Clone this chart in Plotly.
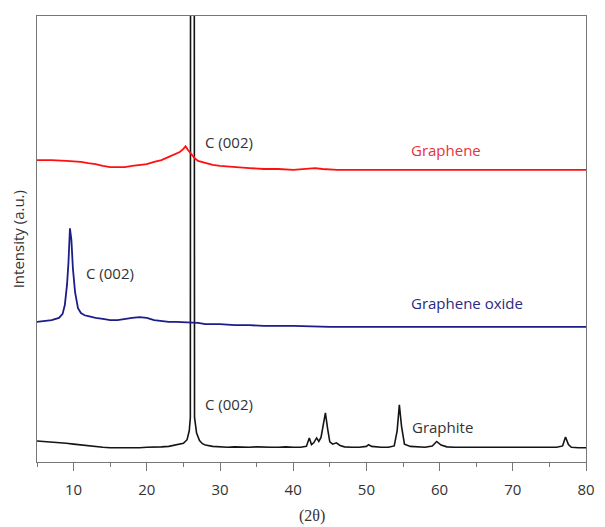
import plotly.graph_objects as go

# ---- data (2theta, intensity in arbitrary units, stacked offsets as read) ----
graphite_x = [5, 6, 7, 8, 9, 10, 11, 12, 13, 14, 15, 16, 17, 18, 19, 20, 21, 22, 23, 24, 25,
              25.5, 25.8, 25.95, 25.98, 26.48, 26.52, 26.8, 27.2, 27.6, 28, 29, 30, 31, 32, 33,
              34, 35, 36, 37, 38, 39, 40, 41, 41.8, 42.2, 42.5, 42.8, 43.2, 43.5, 43.8, 44.1,
              44.4, 44.7, 45.0, 45.4, 45.9, 46.4, 47, 48, 49, 50, 50.3, 50.7, 51.5, 52, 53, 53.8,
              54.2, 54.5, 54.8, 55.2, 56, 57, 58, 59, 59.6, 60.2, 61, 62, 63, 64, 65, 66, 67, 68,
              69, 70, 71, 72, 73, 74, 75, 76, 76.8, 77.2, 77.6, 78, 79, 80]
graphite_y = [4.7, 4.6, 4.5, 4.4, 4.2, 4.0, 3.8, 3.6, 3.4, 3.3, 3.2, 3.2, 3.1, 3.2, 3.2, 3.3, 3.3, 3.4, 3.5, 3.8, 4.2,
              5.0, 7.0, 10.0, 130.0, 130.0, 10.0, 6.5, 4.8, 4.1, 3.8, 3.5, 3.4, 3.3, 3.4, 3.3,
              3.3, 3.4, 3.3, 3.3, 3.3, 3.4, 3.3, 3.3, 3.5, 5.4, 3.9, 4.3, 5.4, 4.6, 5.5, 8.0,
              11.0, 7.5, 4.5, 4.0, 4.3, 3.7, 3.4, 3.3, 3.3, 3.5, 3.9, 3.5, 3.3, 3.3, 3.3, 3.6,
              7.0, 12.8, 8.0, 4.0, 3.5, 3.4, 3.3, 3.6, 4.6, 3.8, 3.4, 3.3, 3.3, 3.3, 3.2, 3.3, 3.3, 3.2,
              3.3, 3.3, 3.2, 3.3, 3.3, 3.2, 3.3, 3.3, 3.6, 5.6, 3.9, 3.3, 3.2, 3.2]

go_x = [5, 6, 7, 8, 8.5, 8.8, 9.1, 9.3, 9.5, 9.7, 9.9, 10.2, 10.6, 11, 11.5, 12, 13, 14, 15, 16,
        17, 18, 19, 20, 21, 22, 23, 24, 25, 26, 27, 28, 30, 32, 34, 36, 38, 40, 45, 50, 55, 60,
        65, 70, 75, 80]
go_y = [31.4, 31.6, 31.8, 32.3, 33.2, 35.2, 39.7, 44.8, 52.4, 49.8, 43.5, 38.1, 34.5, 33.4, 32.9,
        32.7, 32.3, 32.1, 31.8, 31.8, 32.1, 32.3, 32.5, 32.3, 31.8, 31.6, 31.4, 31.4, 31.3, 31.2,
        31.2, 30.9, 30.9, 30.7, 30.7, 30.5, 30.5, 30.5, 30.3, 30.3, 30.3, 30.3, 30.3, 30.3, 30.3, 30.3]

graphene_x = [5, 7, 9, 11, 12, 13, 14, 15, 16, 17, 18, 19, 20, 21, 22, 23, 24, 24.5, 25, 25.3,
              25.6, 26, 26.5, 27, 27.5, 28, 29, 30, 32, 34, 36, 38, 40, 42, 43, 44, 46, 50, 55,
              60, 65, 70, 75, 80]
graphene_y = [67.7, 67.7, 67.5, 67.3, 67.0, 66.8, 66.4, 66.1, 66.1, 66.1, 66.4, 66.6, 66.8, 67.3,
              67.7, 68.4, 69.1, 69.5, 70.2, 70.8, 70.0, 69.1, 68.2, 67.5, 67.3, 67.0, 66.6, 66.4,
              66.1, 65.9, 65.7, 65.7, 65.5, 65.7, 65.9, 65.7, 65.5, 65.5, 65.5, 65.5, 65.5, 65.5,
              65.5, 65.5]

x_ticks = [10, 20, 30, 40, 50, 60, 70, 80]

TXT = "Open Sans"

fig = go.Figure()
fig.add_trace(go.Scatter(x=graphite_x, y=graphite_y, mode="lines",
                         line=dict(color="#141414", width=1.6), showlegend=False))
fig.add_trace(go.Scatter(x=go_x, y=go_y, mode="lines",
                         line=dict(color="#1c1c8a", width=1.8), showlegend=False))
fig.add_trace(go.Scatter(x=graphene_x, y=graphene_y, mode="lines",
                         line=dict(color="#ff1010", width=1.8), showlegend=False))

labels = [
    ("C (002)", 27.7, 13.0, "#333333"),
    ("C (002)", 27.7, 71.7, "#333333"),
    ("C (002)", 11.4, 42.4, "#333333"),
    ("Graphene", 55.8, 70.0, "#e8323c"),
    ("Graphene oxide", 55.8, 35.7, "#2a2a80"),
    ("Graphite", 55.9, 7.8, "#333333"),
]
for t, x, y, c in labels:
    fig.add_annotation(x=x, y=y, text=t, showarrow=False, xanchor="left", yanchor="middle",
                       font=dict(family=TXT, size=15, color=c))

fig.add_annotation(x=0.5, y=-0.121, xref="paper", yref="paper", text="(2θ)", showarrow=False,
                   xanchor="center", yanchor="middle",
                   font=dict(family="Liberation Serif", size=16, color="#333333"))
fig.add_annotation(x=-0.034, y=0.5, xref="paper", yref="paper", text="Intensity (a.u.)",
                   showarrow=False, textangle=-90, xanchor="center", yanchor="middle",
                   font=dict(family=TXT, size=15, color="#333333"))

fig.update_layout(
    width=605, height=527,
    margin=dict(l=37, r=10, t=16, b=65),
    paper_bgcolor="white", plot_bgcolor="white",
    xaxis=dict(range=[5, 80], tickvals=x_ticks, ticks="outside", ticklen=8, tickwidth=1,
               tickcolor="#777777", showline=True, linecolor="#777777", linewidth=1.2,
               mirror=True, showgrid=False, zeroline=False,
               tickfont=dict(family=TXT, size=15, color="#333333"), ticklabelstandoff=6,
               minor=dict(dtick=5, tick0=0, ticks="outside", ticklen=4, tickcolor="#777777",
                          showgrid=False)),
    yaxis=dict(range=[0, 100], showticklabels=False, ticks="", showline=True,
               linecolor="#777777", linewidth=1.2, mirror=True, showgrid=False, zeroline=False),
)

fig.write_html("out.html")
